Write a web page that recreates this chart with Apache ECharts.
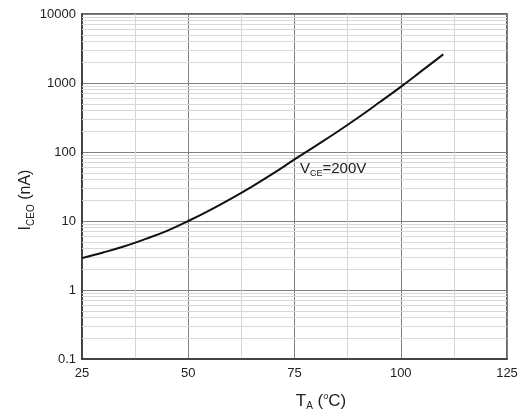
<!DOCTYPE html>
<html><head><meta charset="utf-8">
<script src="https://cdn.jsdelivr.net/npm/echarts@6/dist/echarts.min.js"></script>
<style>html,body{margin:0;padding:0;background:#fff}#c{width:524px;height:416px}</style>
</head><body><div id="c"></div>
<script>
// Data (ICEO vs TA, VCE = 200 V)
const temps = [25, 30, 35, 40, 45, 50, 55, 60, 65, 70, 75, 80, 85, 90, 95, 100, 105, 110];
const iceo  = [2.9, 3.5, 4.3, 5.5, 7.2, 10, 14.3, 21, 31.6, 49, 78, 123, 195, 316, 525, 880, 1510, 2600];
const xTicks = [25, 50, 75, 100, 125];
const yTicks = [0.1, 1, 10, 100, 1000, 10000];
const decades = [0.1, 1, 10, 100, 1000];
const minorMultipliers = [2, 3, 4, 5, 6, 7, 8, 9];

const minorY = [];
decades.forEach(d => minorMultipliers.forEach(m => minorY.push(+(d * m).toPrecision(3))));

const FONT = '"Liberation Sans", Arial, sans-serif';
const chart = echarts.init(document.getElementById('c'));
chart.setOption({
  animation: false,
  backgroundColor: '#fff',
  grid: { left: 82, right: 17, top: 14, bottom: 57, show: true, borderColor: '#333', borderWidth: 1.5, backgroundColor: 'transparent' },
  xAxis: {
    type: 'value', min: xTicks[0], max: xTicks[xTicks.length - 1], interval: 25,
    axisLine: { show: true, lineStyle: { color: '#333', width: 1.5 } },
    axisTick: { show: false },
    minorTick: { show: false, splitNumber: 2 },
    minorSplitLine: { show: true, lineStyle: { color: '#d4d4d4', width: 1 } },
    splitLine: { show: true, lineStyle: { color: '#808080', width: 1 } },
    axisLabel: { color: '#222', fontSize: 13, fontFamily: FONT, margin: 8,
      formatter: v => xTicks.includes(v) ? String(v) : '' }
  },
  yAxis: {
    type: 'log', logBase: 10, min: yTicks[0], max: yTicks[yTicks.length - 1],
    axisLine: { show: true, lineStyle: { color: '#333', width: 1.5 } },
    axisTick: { show: false },
    splitLine: { show: true, lineStyle: { color: '#808080', width: 1 } },
    axisLabel: { color: '#222', fontSize: 13, fontFamily: FONT, margin: 6,
      formatter: v => { const t = yTicks.find(x => Math.abs(Math.log10(x) - Math.log10(v)) < 1e-6); return t === undefined ? '' : String(t); } }
  },
  series: [
    {
      type: 'line', data: [], z: 1, silent: true,
      markLine: {
        silent: true, symbol: ['none', 'none'], animation: false,
        label: { show: false },
        lineStyle: { color: '#d8d8d8', width: 1, type: 'solid' },
        emphasis: { disabled: true },
        data: minorY.map(v => ({ yAxis: v }))
      }
    },
    {
      type: 'line', z: 5, smooth: 0.4, showSymbol: false, silent: true,
      data: temps.map((t, i) => [t, iceo[i]]),
      lineStyle: { color: '#111', width: 2 }
    }
  ],
  graphic: [
    { type: 'text', left: 300, top: 160, z: 10,
      style: { text: '{m|V}{s|CE}{m|=200V}', fontFamily: FONT, fill: '#222',
        rich: { m: { fontSize: 15, fontFamily: FONT, fill: '#222', lineHeight: 20 },
                s: { fontSize: 9, fontFamily: FONT, fill: '#222', padding: [9, 0, 0, 0], lineHeight: 20 } } } },
    { type: 'text', x: 26, y: 200, rotation: Math.PI / 2, z: 10,
      style: { text: '{m|I}{s|CEO}{m| (nA)}', fontFamily: FONT, fill: '#222', align: 'center', verticalAlign: 'middle',
        rich: { m: { fontSize: 16, fontFamily: FONT, fill: '#222', lineHeight: 22 },
                s: { fontSize: 10, fontFamily: FONT, fill: '#222', padding: [10, 0, 0, 0], lineHeight: 22 } } } },
    { type: 'text', x: 321, y: 401, z: 10,
      style: { text: '{m|T}{s|A}{m| (}{p|o}{m|C)}', fontFamily: FONT, fill: '#222', align: 'center', verticalAlign: 'middle',
        rich: { m: { fontSize: 17, fontFamily: FONT, fill: '#222', lineHeight: 22 },
                s: { fontSize: 10, fontFamily: FONT, fill: '#222', padding: [11, 0, 0, 0], lineHeight: 22 },
                p: { fontSize: 9, fontFamily: FONT, fill: '#222', padding: [0, 0, 9, 0], lineHeight: 22 } } } }
  ]
});
</script>
</body></html>
